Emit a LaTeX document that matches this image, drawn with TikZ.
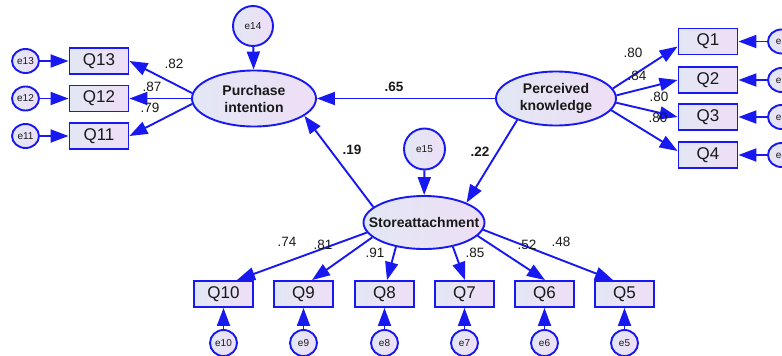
\documentclass[tikz,border=0pt]{standalone}
\usepackage{fontspec}
\setmainfont{Liberation Sans}
\usetikzlibrary{shapes.geometric,arrows.meta}
\definecolor{amosblue}{RGB}{24,24,240}
\definecolor{fillL}{RGB}{226,231,244}
\definecolor{fillR}{RGB}{238,222,246}
\definecolor{txt}{RGB}{25,25,25}
\begin{document}
\begin{tikzpicture}[x=1pt,y=-1pt,
  shade/.style={draw=amosblue, line width=1.9pt, left color=fillL, right color=fillR},
  obs/.style={shade, rectangle, minimum width=59pt, minimum height=26pt, inner sep=0pt,
     font=\fontsize{17}{17}\selectfont, text=txt},
  lat/.style={shade, ellipse, inner sep=0pt},
  ltext/.style={font=\bfseries\fontsize{14}{17}\selectfont, text=txt, align=center, inner sep=0pt},
  err/.style={shade, ellipse, inner sep=0pt, minimum width=27pt, minimum height=24pt,
     font=\fontsize{10}{10}\selectfont, text=txt},
  bigerr/.style={shade, circle, inner sep=0pt, minimum size=40pt,
     font=\fontsize{10}{10}\selectfont, text=txt},
  arr/.style={draw=amosblue, line width=1.9pt, -{Triangle[length=18pt,width=13pt]}},
  lab/.style={font=\fontsize{13.5}{14}\selectfont, text=txt, inner sep=0pt},
  blab/.style={font=\bfseries\fontsize{13.5}{14}\selectfont, text=txt, inner sep=0pt}]
\fill[white] (0,0) rectangle (782,356);
\clip (0,0) rectangle (782,356);
\useasboundingbox (0,0) rectangle (782,356);

% left indicators
\node[err] (e13) at (25.5,61) {e13};
\node[obs] (Q13) at (99,61) {Q13};
\node[err] (e12) at (25.5,98.5) {e12};
\node[obs] (Q12) at (99,98.5) {Q12};
\node[err] (e11) at (25.5,136) {e11};
\node[obs] (Q11) at (99,136) {Q11};

% latents
\node[bigerr] (e14) at (253,26) {e14};
\node[lat, minimum width=124pt, minimum height=56pt,
  label={[ltext]center:{Purchase\\intention}}] (PI) at (254,98.5) {};
\node[lat, minimum width=120pt, minimum height=54pt,
  label={[ltext]center:{Perceived\\knowledge}}] (PK) at (556,98.5) {};
\node[bigerr, minimum size=41pt] (e15) at (424.5,149) {e15};
\node[lat, minimum width=121pt, minimum height=53pt,
  label={[ltext]center:{Storeattachment}}] (SA) at (424,222.5) {};

% right indicators
\node[obs] (Q1) at (708,41.5) {Q1};
\node[obs] (Q2) at (708,80) {Q2};
\node[obs] (Q3) at (708,117) {Q3};
\node[obs] (Q4) at (708,155) {Q4};
\node[err] (e1) at (781.5,41.5) {e1};
\node[err] (e2) at (781.5,80) {e2};
\node[err] (e3) at (781.5,117) {e3};
\node[err] (e4) at (781.5,155) {e4};

% bottom indicators
\node[obs] (Q10) at (223.5,294) {Q10};
\node[obs] (Q9) at (303.5,294) {Q9};
\node[obs] (Q8) at (384.5,294) {Q8};
\node[obs] (Q7) at (464.5,294) {Q7};
\node[obs] (Q6) at (544.5,294) {Q6};
\node[obs] (Q5) at (624.5,294) {Q5};
\node[err, minimum height=26pt] (e10) at (223.5,343) {e10};
\node[err, minimum height=26pt] (e9) at (303.5,343) {e9};
\node[err, minimum height=26pt] (e8) at (384.5,343) {e8};
\node[err, minimum height=26pt] (e7) at (464.5,343) {e7};
\node[err, minimum height=26pt] (e6) at (544.5,343) {e6};
\node[err, minimum height=26pt] (e5) at (624.5,343) {e5};

% error arrows
\draw[arr] (e13) -- (Q13);
\draw[arr] (e12) -- (Q12);
\draw[arr] (e11) -- (Q11);
\draw[arr] (e1) -- (Q1);
\draw[arr] (e2) -- (Q2);
\draw[arr] (e3) -- (Q3);
\draw[arr] (e4) -- (Q4);
\foreach \i in {10,9,8,7,6,5} \draw[arr] (e\i) -- (Q\i);
\draw[arr] (e14) -- (PI);
\draw[arr] (e15) -- (SA);

% loadings
\draw[arr] (PI.175) -- (Q13.east);
\draw[arr] (PI.west) -- (Q12.east);
\draw[arr] (PI.185) -- (Q11.east);
\draw[arr] (PK.10) -- ([yshift=-5pt]Q1.west);
\draw[arr] (PK.3) -- (Q2.west);
\draw[arr] (PK.-4) -- (Q3.west);
\draw[arr] (PK.-12) -- ([yshift=4pt]Q4.west);
\draw[arr] (SA.190) -- ([xshift=13.5pt]Q10.north);
\draw[arr] (SA.196) -- ([xshift=8.5pt]Q9.north);
\draw[arr] (SA.221) -- ([xshift=2.5pt]Q8.north);
\draw[arr] (SA.-40) -- ([xshift=0.5pt]Q7.north);
\draw[arr] (SA.-14) -- ([xshift=0.5pt]Q6.north);
\draw[arr] (SA.-7) -- ([xshift=-11.5pt]Q5.north);

% structural paths
\draw[arr] (PK.west) -- (PI.east);
\draw[arr] (PK.209) -- (SA.25);
\draw[arr] (SA.163) -- (PI.-19);

% labels
\node[lab] (l82) at (174,64) {.82};
\node[lab] (l87) at (152,87) {.87};
\node[lab] (l79) at (150,108) {.79};
\node[lab] (l80a) at (633,53) {.80};
\node[lab] (l84) at (637,76) {.84};
\node[lab] (l80b) at (659,97) {.80};
\node[lab] (l80c) at (658,118) {.80};
\node[blab] (l65) at (394,87) {.65};
\node[blab] (l19) at (352,150) {.19};
\node[blab] (l22) at (480,152) {.22};
\node[lab] (l74) at (287,242) {.74};
\node[lab] (l81) at (323,245) {.81};
\node[lab] (l91) at (375,253) {.91};
\node[lab] (l85) at (475,253) {.85};
\node[lab] (l52) at (527,245) {.52};
\node[lab] (l48) at (561,242) {.48};
\end{tikzpicture}
\end{document}
